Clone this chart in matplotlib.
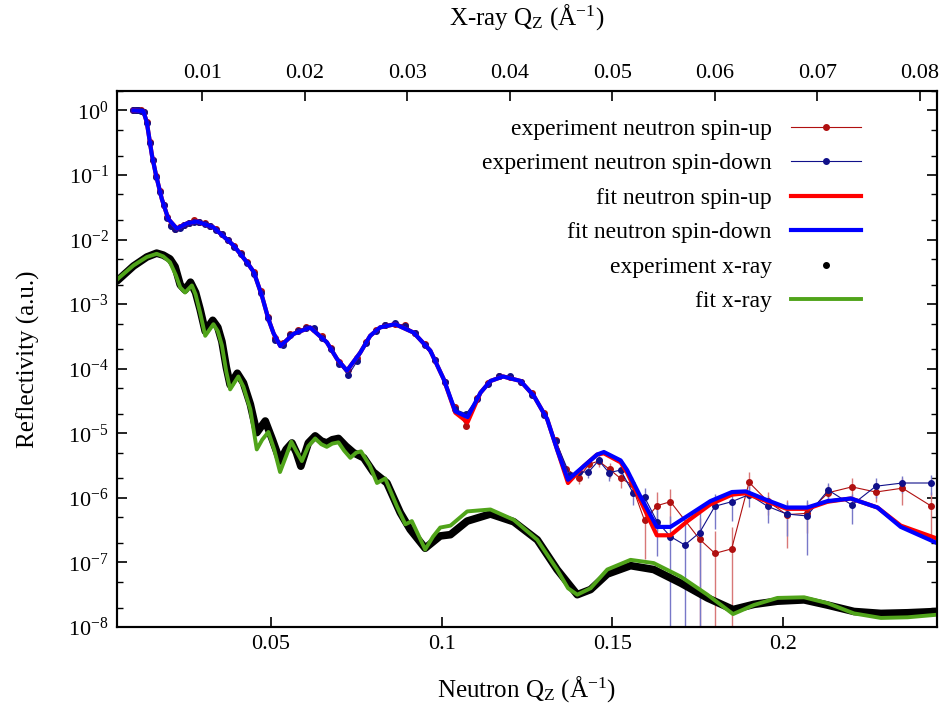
import numpy as np
import matplotlib
matplotlib.use('Agg')
import matplotlib.pyplot as plt
from matplotlib.ticker import FixedLocator, FuncFormatter, LogLocator
from matplotlib.lines import Line2D

plt.rcParams['font.family'] = ['Liberation Serif', 'DejaVu Serif']
plt.rcParams['mathtext.fontset'] = 'custom'
plt.rcParams['mathtext.rm'] = 'Liberation Serif'
plt.rcParams['mathtext.it'] = 'Liberation Serif:italic'
plt.rcParams['mathtext.default'] = 'regular'

# [neutron experiment, spin-up]  q in 1/A, reflectivity as log10
q_up = [0.0098, 0.0105, 0.0112, 0.0120, 0.0128, 0.0137, 0.0146, 0.0155, 0.0165, 0.0175,
        0.0186, 0.0197, 0.0209, 0.0221, 0.0234, 0.0247, 0.0261, 0.0276, 0.0291, 0.0307,
        0.0323, 0.0340, 0.0357, 0.0375, 0.0393, 0.0412, 0.0431, 0.0451, 0.0471, 0.0492,
        0.0513, 0.0535, 0.0557, 0.0580, 0.0603, 0.0627, 0.0651, 0.0676, 0.0701, 0.0727,
        0.0753, 0.0780, 0.0807, 0.0835, 0.0863, 0.0892, 0.0921, 0.0950, 0.0980, 0.1010,
        0.1040, 0.1072, 0.1103, 0.1135, 0.1168, 0.1200, 0.1233, 0.1266, 0.1300,
        0.1334, 0.1365, 0.1402, 0.1431, 0.1460, 0.1492, 0.1524, 0.1556, 0.1594, 0.1631,
        0.1670, 0.1755, 0.1800, 0.1849, 0.1900, 0.1954, 0.2010, 0.2069, 0.2132, 0.2201,
        0.2271, 0.2349, 0.2434]
logR_up = [0.00, 0.00, 0.00, 0.00, -0.02, -0.18, -0.49, -0.76, -1.02, -1.25,
           -1.46, -1.65, -1.78, -1.83, -1.81, -1.77, -1.74, -1.70, -1.72, -1.75,
           -1.79, -1.84, -1.91, -2.00, -2.10, -2.21, -2.35, -2.50, -2.80, -3.20,
           -3.52, -3.60, -3.47, -3.40, -3.36, -3.38, -3.50, -3.68, -3.90, -4.02,
           -3.84, -3.58, -3.40, -3.32, -3.30, -3.33, -3.44, -3.62, -3.86, -4.20,
           -4.60, -4.88, -4.45, -4.22, -4.12, -4.13, -4.20, -4.38, -4.68,
           -5.10, -5.55, -5.69, -5.48, -5.43, -5.56, -5.70, -5.79, -6.35, -6.12,
           -6.06, -6.64, -6.86, -6.79, -5.76, -6.05, -6.26, -6.24, -5.92, -5.83,
           -5.91, -5.85, -6.13]
relerr_up = [0.02, 0.02, 0.02, 0.02, 0.02, 0.02, 0.02, 0.02, 0.02, 0.02,
             0.02, 0.02, 0.02, 0.02, 0.02, 0.02, 0.02, 0.02, 0.02, 0.02,
             0.02, 0.02, 0.02, 0.02, 0.02, 0.02, 0.02, 0.02, 0.02, 0.02,
             0.02, 0.02, 0.02, 0.02, 0.02, 0.02, 0.02, 0.02, 0.02, 0.02,
             0.03, 0.03, 0.03, 0.03, 0.03, 0.03, 0.04, 0.04, 0.05, 0.06,
             0.08, 0.10, 0.08, 0.06, 0.05, 0.05, 0.06, 0.07, 0.08,
             0.08, 0.12, 0.20, 0.15, 0.20, 0.25, 0.30, 0.30, 0.75, 0.60,
             0.55, 1.10, 1.20, 1.20, 0.45, 0.40, 0.70, 0.50, 0.30, 0.35,
             0.30, 0.45, 0.65]

# [neutron experiment, spin-down]
q_down = [0.0098, 0.0105, 0.0112, 0.0120, 0.0128, 0.0137, 0.0146, 0.0155, 0.0165, 0.0175,
          0.0186, 0.0197, 0.0209, 0.0221, 0.0234, 0.0247, 0.0261, 0.0276, 0.0291, 0.0307,
          0.0323, 0.0340, 0.0357, 0.0375, 0.0393, 0.0412, 0.0431, 0.0451, 0.0471, 0.0492,
          0.0513, 0.0535, 0.0557, 0.0580, 0.0603, 0.0627, 0.0651, 0.0676, 0.0701, 0.0727,
          0.0753, 0.0780, 0.0807, 0.0835, 0.0863, 0.0892, 0.0921, 0.0950, 0.0980, 0.1010,
          0.1040, 0.1072, 0.1103, 0.1135, 0.1168, 0.1200, 0.1233, 0.1266, 0.1300,
          0.1334, 0.1375, 0.1402, 0.1430, 0.1460, 0.1490, 0.1524, 0.1560, 0.1594, 0.1631,
          0.1670, 0.1712, 0.1755, 0.1800, 0.1849, 0.1900, 0.1954, 0.2010, 0.2069, 0.2132,
          0.2201, 0.2271, 0.2349, 0.2434]
logR_down = [0.00, 0.00, 0.00, -0.01, -0.02, -0.19, -0.50, -0.77, -1.03, -1.26,
             -1.47, -1.66, -1.79, -1.84, -1.82, -1.78, -1.75, -1.73, -1.73, -1.76,
             -1.79, -1.85, -1.92, -2.01, -2.11, -2.22, -2.36, -2.53, -2.82, -3.22,
             -3.55, -3.63, -3.48, -3.42, -3.37, -3.37, -3.52, -3.70, -3.93, -4.10,
             -3.88, -3.60, -3.41, -3.33, -3.29, -3.34, -3.45, -3.63, -3.87, -4.20,
             -4.63, -4.70, -4.47, -4.24, -4.11, -4.12, -4.21, -4.40, -4.72,
             -5.12, -5.64, -5.60, -5.60, -5.42, -5.61, -5.57, -5.92, -5.99, -6.37,
             -6.60, -6.73, -6.54, -6.13, -6.06, -5.95, -6.13, -6.25, -6.28, -5.88,
             -6.11, -5.82, -5.77, -5.77]
relerr_down = [0.02, 0.02, 0.02, 0.02, 0.02, 0.02, 0.02, 0.02, 0.02, 0.02,
               0.02, 0.02, 0.02, 0.02, 0.02, 0.02, 0.02, 0.02, 0.02, 0.02,
               0.02, 0.02, 0.02, 0.02, 0.02, 0.02, 0.02, 0.02, 0.02, 0.02,
               0.02, 0.02, 0.02, 0.02, 0.02, 0.02, 0.02, 0.02, 0.02, 0.02,
               0.03, 0.03, 0.03, 0.03, 0.03, 0.03, 0.04, 0.04, 0.05, 0.06,
               0.08, 0.10, 0.08, 0.06, 0.05, 0.05, 0.06, 0.07, 0.08,
               0.08, 0.12, 0.15, 0.20, 0.15, 0.25, 0.25, 0.35, 0.40, 0.70,
               1.10, 1.20, 1.10, 0.55, 0.50, 0.35, 0.45, 0.55, 0.75, 0.30,
               0.50, 0.35, 0.30, 0.35]

# [neutron fits]
q_fit = [0.0098, 0.0127, 0.0137, 0.0152, 0.0164, 0.0181, 0.0200, 0.0225, 0.0254, 0.0284,
         0.0332, 0.0391, 0.0430, 0.0450, 0.0474, 0.0493, 0.0508, 0.0528, 0.0567, 0.0615,
         0.0664, 0.0694, 0.0723, 0.0762, 0.0791, 0.0820, 0.0864, 0.0918, 0.0967, 0.1006,
         0.1040, 0.1076, 0.1114, 0.1143, 0.1180, 0.1231, 0.1270, 0.1309, 0.1338, 0.1370,
         0.1416, 0.1455, 0.1475, 0.1524, 0.1543, 0.1580, 0.1630, 0.1670, 0.1720, 0.1787,
         0.1850, 0.1890, 0.1950, 0.2010, 0.2070, 0.2130, 0.2198, 0.2276, 0.2344, 0.2450]
fit_up = [0.00, -0.01, -0.18, -0.69, -1.00, -1.37, -1.68, -1.83, -1.75, -1.72,
          -1.81, -2.09, -2.35, -2.50, -2.87, -3.23, -3.45, -3.65, -3.46, -3.36,
          -3.59, -3.85, -4.03, -3.75, -3.49, -3.36, -3.31, -3.44, -3.72, -4.16,
          -4.68, -4.83, -4.37, -4.19, -4.12, -4.19, -4.42, -4.78, -5.25, -5.77,
          -5.51, -5.33, -5.31, -5.45, -5.61, -6.02, -6.58, -6.58, -6.36, -6.10,
          -5.95, -5.93, -6.05, -6.17, -6.17, -6.06, -6.01, -6.15, -6.43, -6.63]
fit_down = [0.00, -0.01, -0.18, -0.69, -1.00, -1.37, -1.68, -1.83, -1.75, -1.72,
            -1.81, -2.09, -2.35, -2.50, -2.87, -3.23, -3.45, -3.65, -3.46, -3.36,
            -3.59, -3.85, -4.03, -3.75, -3.49, -3.36, -3.31, -3.44, -3.72, -4.16,
            -4.66, -4.75, -4.37, -4.19, -4.12, -4.19, -4.42, -4.78, -5.25, -5.72,
            -5.51, -5.33, -5.29, -5.42, -5.57, -5.96, -6.45, -6.45, -6.28, -6.05,
            -5.91, -5.90, -6.03, -6.15, -6.15, -6.05, -6.01, -6.15, -6.45, -6.70]

# [x-ray]  q on the x-ray scale
qx_exp = [0.00167, 0.00327, 0.00457, 0.00553, 0.00617, 0.00683, 0.00733, 0.00783, 0.00830, 0.00883,
          0.00933, 0.00977, 0.01027, 0.01100, 0.01150, 0.01190, 0.01233, 0.01270, 0.01340, 0.01400,
          0.01467, 0.01530, 0.01613, 0.01683, 0.01757, 0.01817, 0.01873, 0.01917, 0.01960, 0.02033,
          0.02100, 0.02160, 0.02213, 0.02267, 0.02327, 0.02400, 0.02473, 0.02573, 0.02667, 0.02800,
          0.02930, 0.03027, 0.03173, 0.03320, 0.03420, 0.03583, 0.03810, 0.04037, 0.04267, 0.04460,
          0.04657, 0.04787, 0.04950, 0.05177, 0.05403, 0.05667, 0.05927, 0.06177, 0.06380, 0.06610,
          0.06870, 0.07097, 0.07357, 0.07620, 0.07880, 0.08167]
xray_exp = [-2.64, -2.41, -2.27, -2.21, -2.24, -2.30, -2.42, -2.70, -2.78, -2.66,
            -2.82, -3.08, -3.42, -3.25, -3.36, -3.58, -3.98, -4.25, -4.07, -4.22,
            -4.55, -4.99, -4.81, -5.10, -5.43, -5.25, -5.15, -5.30, -5.51, -5.15,
            -5.04, -5.12, -5.15, -5.10, -5.08, -5.20, -5.30, -5.38, -5.60, -5.77,
            -6.23, -6.49, -6.78, -6.59, -6.57, -6.36, -6.25, -6.37, -6.65, -7.11,
            -7.50, -7.42, -7.18, -7.05, -7.11, -7.32, -7.55, -7.73, -7.65, -7.60,
            -7.58, -7.66, -7.76, -7.79, -7.78, -7.76]
qx_fit = [0.00167, 0.00180, 0.00327, 0.00457, 0.00553, 0.00617, 0.00683, 0.00740, 0.00783, 0.00830,
          0.00897, 0.00933, 0.00977, 0.01027, 0.01107, 0.01150, 0.01190, 0.01233, 0.01270, 0.01350,
          0.01400, 0.01467, 0.01530, 0.01583, 0.01643, 0.01700, 0.01757, 0.01817, 0.01867, 0.01917,
          0.01970, 0.02033, 0.02100, 0.02160, 0.02213, 0.02267, 0.02327, 0.02383, 0.02443, 0.02500,
          0.02547, 0.02633, 0.02703, 0.02783, 0.02897, 0.02980, 0.03043, 0.03173, 0.03250, 0.03320,
          0.03420, 0.03583, 0.03810, 0.04037, 0.04267, 0.04460, 0.04567, 0.04657, 0.04787, 0.04950,
          0.05177, 0.05403, 0.05667, 0.05927, 0.06177, 0.06380, 0.06610, 0.06870, 0.07097, 0.07357,
          0.07620, 0.07880, 0.08167]
xray_fit = [-2.62, -2.60, -2.40, -2.27, -2.22, -2.26, -2.35, -2.55, -2.74, -2.82,
            -2.71, -2.85, -3.13, -3.49, -3.31, -3.42, -3.64, -4.05, -4.32, -4.12,
            -4.28, -4.63, -5.25, -5.10, -4.98, -5.25, -5.60, -5.35, -5.13, -5.28,
            -5.43, -5.20, -5.08, -5.17, -5.21, -5.16, -5.14, -5.27, -5.38, -5.30,
            -5.28, -5.50, -5.77, -5.70, -6.13, -6.41, -6.36, -6.80, -6.60, -6.46,
            -6.43, -6.21, -6.18, -6.34, -6.65, -7.11, -7.40, -7.50, -7.40, -7.11,
            -6.96, -7.01, -7.22, -7.50, -7.80, -7.66, -7.55, -7.54, -7.63, -7.79,
            -7.86, -7.85, -7.81]

R_up = 10 ** np.array(logR_up)
R_down = 10 ** np.array(logR_down)

fig = plt.figure(figsize=(9.47, 7.15), dpi=100)
ax = fig.add_axes([0.1236, 0.1231, 0.8658, 0.7496])
ax.set_yscale('log')

# experiment neutron with error bars
eb_up = ax.errorbar(q_up, R_up, yerr=R_up * np.array(relerr_up), fmt='-o', color='#b01010',
                    ecolor='#d87878', elinewidth=1.0, lw=0.8, ms=4, capsize=0, zorder=2)
eb_down = ax.errorbar(q_down, R_down, yerr=R_down * np.array(relerr_down), fmt='-o', color='#10108a',
                      ecolor='#7878c8', elinewidth=1.0, lw=0.8, ms=4, capsize=0, zorder=2)

# fits
l_fu, = ax.plot(q_fit, 10 ** np.array(fit_up), color='#ff0000', lw=3, zorder=3)
l_fd, = ax.plot(q_fit, 10 ** np.array(fit_down), color='#0000ff', lw=3, zorder=4)

ax.set_xlim(0.005, 0.245)
ax.set_ylim(1e-8, 2.0)

# top axis for x-ray (Qz_xray = Qz_neutron / 3)
ax2 = ax.twiny()
ax2.set_xlim(0.005 / 3, 0.245 / 3)
l_xe, = ax2.plot(qx_exp, 10 ** np.array(xray_exp), color='black', lw=5.5, solid_capstyle='round')
l_xf, = ax2.plot(qx_fit, 10 ** np.array(xray_fit), color='#50a41a', lw=2.8)

ax.xaxis.set_major_locator(FixedLocator([0.05, 0.1, 0.15, 0.2]))
ax.xaxis.set_major_formatter(FuncFormatter(lambda v, p: '%g' % v))
ax2.xaxis.set_major_locator(FixedLocator([0.01, 0.02, 0.03, 0.04, 0.05, 0.06, 0.07, 0.08]))
ax2.xaxis.set_major_formatter(FuncFormatter(lambda v, p: '%g' % v))
ax.yaxis.set_major_locator(LogLocator(base=10, numticks=20))
ax.yaxis.set_minor_locator(LogLocator(base=10, subs=(2.0, 5.0), numticks=20))

ax.tick_params(which='major', direction='in', length=7, width=1.2, labelsize=16,
               right=True, top=False, pad=6)
ax.tick_params(which='minor', direction='in', length=4, width=1.0, right=True, top=False)
ax2.tick_params(which='major', direction='in', length=7, width=1.2, labelsize=16, pad=6)
ax2.tick_params(axis='x', which='minor', top=False)
for a in (ax, ax2):
    for s in a.spines.values():
        s.set_linewidth(1.5)

ax.set_xlabel('Neutron Q$_Z$ (Å$^{-1}$)', fontsize=18, labelpad=14)
ax.set_ylabel('Reflectivity (a.u.)', fontsize=18, labelpad=20)
ax2.set_xlabel('X-ray Q$_Z$ (Å$^{-1}$)', fontsize=18, labelpad=28)

# legend handles
h_eu = eb_up[0]
h_ed = eb_down[0]
h_xe = Line2D([], [], color='black', marker='o', ls='none', ms=4)
ax2.legend([h_eu, h_ed, l_fu, l_fd, h_xe, l_xf],
           ['experiment neutron spin-up', 'experiment neutron spin-down', 'fit neutron spin-up',
            'fit neutron spin-down', 'experiment x-ray', 'fit x-ray'],
           loc='upper right', bbox_to_anchor=(0.928, 0.98), frameon=False, markerfirst=False,
           fontsize=17, handlelength=3.0, labelspacing=0.55, handletextpad=0.8, borderpad=0.2)

fig.savefig('out.png', dpi=100)
